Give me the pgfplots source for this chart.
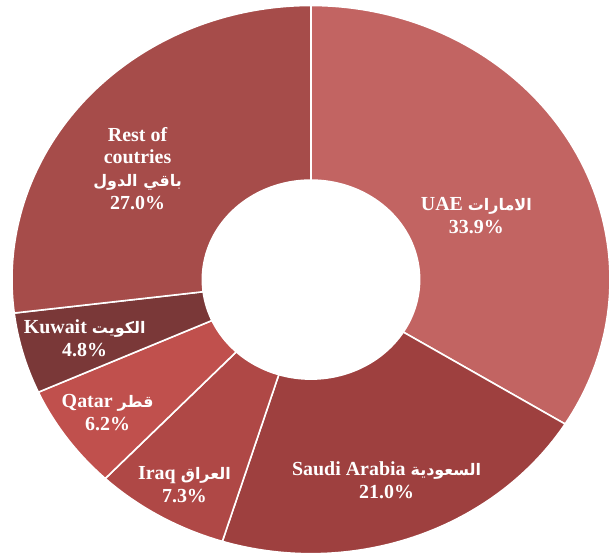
\documentclass[border=0pt]{standalone}
\usepackage{fontspec}
\setmainfont{Liberation Serif}
\newfontfamily\arabicfont[Script=Arabic]{DejaVu Sans}
\TeXXeTstate=1
\usepackage{pgfplots}
\pgfplotsset{compat=1.18}
\definecolor{cUAE}{RGB}{194,100,98}
\definecolor{cKSA}{RGB}{158,64,63}
\definecolor{cIRQ}{RGB}{175,72,70}
\definecolor{cQAT}{RGB}{192,80,77}
\definecolor{cKWT}{RGB}{122,56,56}
\definecolor{cRST}{RGB}{166,76,74}

% slice from start% to end% (total of the shares is 100.2)
\newcommand{\slice}[3]{%
  \addplot[fill=#3, draw=white, line width=1.6pt, domain=#1:#2, samples=90, variable=\t]
    ({sin(\t*360/100.2)}, {cos(\t*360/100.2)}) -- (axis cs:0,0) -- cycle;
}
\newcommand{\ar}[1]{{\arabicfont\fontsize{16}{22}\selectfont\beginR #1\endR}}

\begin{document}
\begin{tikzpicture}
\begin{axis}[
    width=612pt, height=558pt, scale only axis,
    xmin=-1.04, xmax=1.0, ymin=-1.009, ymax=1.02,
    hide axis, clip=true,
  ]
  % shares: UAE 33.9, Saudi 21.0, Iraq 7.3, Qatar 6.2, Kuwait 4.8, Rest 27.0
  \slice{0}{33.9}{cUAE}
  \slice{33.9}{54.9}{cKSA}
  \slice{54.9}{62.2}{cIRQ}
  \slice{62.2}{68.4}{cQAT}
  \slice{68.4}{73.2}{cKWT}
  \slice{73.2}{100.2}{cRST}
  \addplot[fill=white, draw=none, domain=0:360, samples=150]
    ({0.366*sin(x)}, {0.366*cos(x)});

  \tikzset{lbl/.style={text=white, align=center, font=\bfseries\fontsize{20}{23}\selectfont}}
  \node[lbl] at (axis cs:0.553,0.235) {UAE \ar{الامارات}\\33.9\%};
  \node[lbl] at (axis cs:0.253,-0.733) {Saudi Arabia \ar{السعودية}\\21.0\%};
  \node[lbl] at (axis cs:-0.423,-0.747) {Iraq \ar{العراق}\\7.3\%};
  \node[lbl] at (axis cs:-0.68,-0.485) {Qatar \ar{قطر}\\6.2\%};
  \node[lbl] at (axis cs:-0.757,-0.215) {Kuwait \ar{الكويت}\\4.8\%};
  \node[lbl] at (axis cs:-0.58,0.405) {Rest of\\coutries\\\ar{باقي الدول}\\27.0\%};
\end{axis}
\pgfresetboundingbox
\useasboundingbox (current axis.south west) rectangle (current axis.north east);
\end{tikzpicture}
\end{document}
